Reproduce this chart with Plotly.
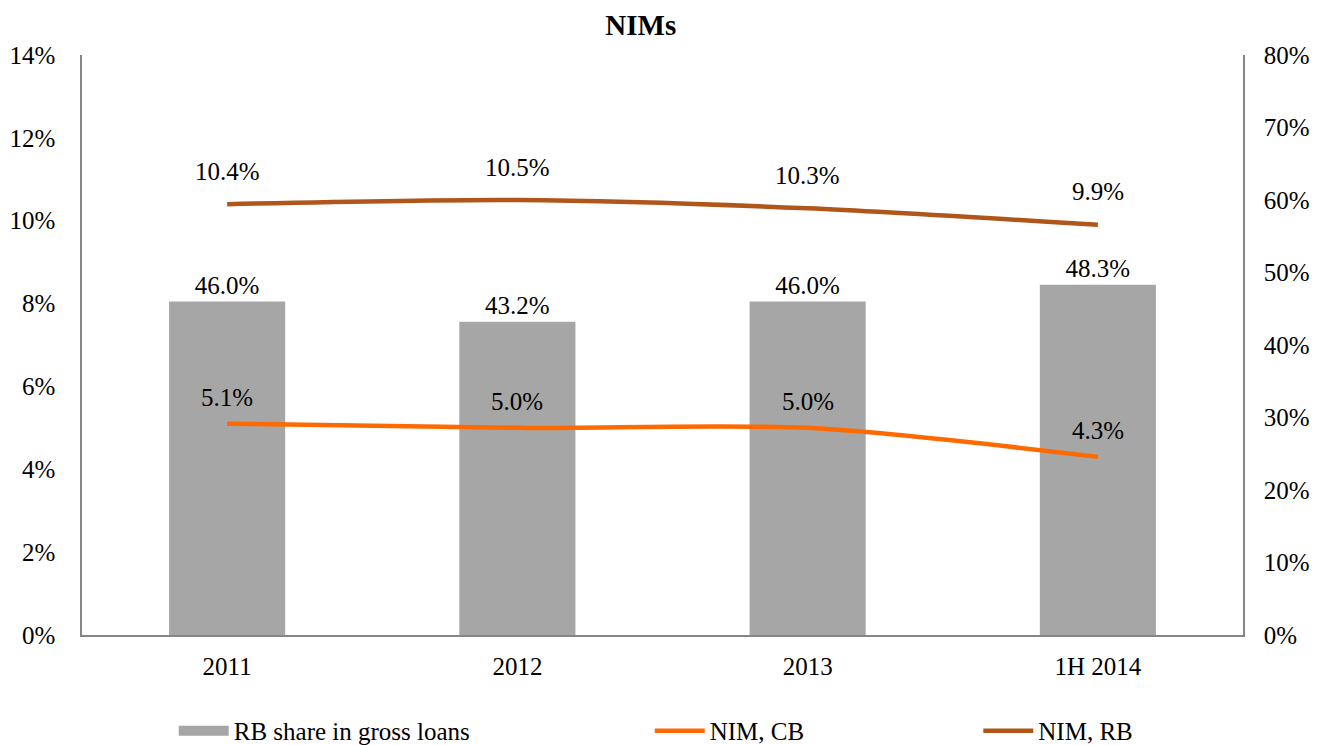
import plotly.graph_objects as go

categories = ["2011", "2012", "2013", "1H 2014"]
rb_share = [46.0, 43.2, 46.0, 48.3]
nim_cb = [5.1, 5.0, 5.0, 4.3]
nim_rb = [10.4, 10.5, 10.3, 9.9]

left_ticks = [0, 2, 4, 6, 8, 10, 12, 14]
right_ticks = [0, 10, 20, 30, 40, 50, 60, 70, 80]

FONT = "Liberation Serif"
BAR_COLOR = "#A6A6A6"
CB_COLOR = "#FF6A00"
RB_COLOR = "#B0561B"
AXIS_COLOR = "#868686"
FS = 25

fig = go.Figure()

# bars on the primary axis (drawn first, underneath), shown on the right side
fig.add_trace(go.Bar(
    x=categories, y=rb_share, name="RB share in gross loans",
    marker=dict(color=BAR_COLOR, line=dict(width=0)),
    width=0.4, yaxis="y", showlegend=False,
    text=[f"{v:.1f}%" for v in rb_share], textposition="outside",
    textfont=dict(family=FONT, size=FS, color="black"),
    cliponaxis=False,
))
# legend proxy for the bar series (wide rectangle swatch)
fig.add_trace(go.Scatter(
    x=[None], y=[None], name="RB share in gross loans", mode="lines",
    line=dict(color=BAR_COLOR, width=17), yaxis="y", legend="legend",
))
fig.add_trace(go.Scatter(
    x=categories, y=nim_cb, name="NIM, CB", mode="lines",
    line=dict(color=CB_COLOR, width=4.5, shape="spline", smoothing=0.8),
    yaxis="y2", legend="legend2",
))
fig.add_trace(go.Scatter(
    x=categories, y=nim_rb, name="NIM, RB", mode="lines",
    line=dict(color=RB_COLOR, width=4.5, shape="spline", smoothing=0.8),
    yaxis="y2", legend="legend3",
))

annotations = []
for i, v in enumerate(nim_rb):
    annotations.append(dict(x=i, y=v, xref="x", yref="y2", text=f"{v:.1f}%",
                            showarrow=False, yshift=33,
                            font=dict(family=FONT, size=FS, color="black")))
for i, v in enumerate(nim_cb):
    annotations.append(dict(x=i, y=v, xref="x", yref="y2", text=f"{v:.1f}%",
                            showarrow=False, yshift=26,
                            font=dict(family=FONT, size=FS, color="black")))

legend_common = dict(orientation="h", y=-0.1655, yanchor="middle",
                     xanchor="left", font=dict(family=FONT, size=FS, color="black"),
                     bgcolor="rgba(0,0,0,0)", itemwidth=50)

fig.update_layout(
    width=1310, height=737,
    margin=dict(l=74, r=75, t=47, b=110, autoexpand=False),
    paper_bgcolor="white", plot_bgcolor="white",
    font=dict(family=FONT, size=FS, color="black"),
    title=dict(text="<b>NIMs</b>", x=0.483, xanchor="center", y=0.977, yanchor="middle",
               font=dict(family=FONT, size=29, color="black")),
    xaxis=dict(type="category", range=[-0.5, 3.5], showline=True, linecolor=AXIS_COLOR,
               linewidth=1.5, showgrid=False, ticks="", ticklabelstandoff=8,
               tickfont=dict(family=FONT, size=FS)),
    yaxis=dict(range=[0, 80], tickvals=right_ticks, ticktext=[f"{t}%" for t in right_ticks],
               side="right",
               showline=True, linecolor=AXIS_COLOR, linewidth=1.5, showgrid=False,
               ticks="", ticklabelstandoff=14, zeroline=False,
               tickfont=dict(family=FONT, size=FS)),
    yaxis2=dict(range=[0, 14], tickvals=left_ticks, ticktext=[f"{t}%" for t in left_ticks],
                overlaying="y", side="left",
                showline=True, linecolor=AXIS_COLOR, linewidth=1.5, showgrid=False,
                ticks="", ticklabelstandoff=20, zeroline=False,
                tickfont=dict(family=FONT, size=FS)),
    legend=dict(x=0.079, **legend_common),
    legend2=dict(x=0.489, **legend_common),
    legend3=dict(x=0.772, **legend_common),
    annotations=annotations,
)

fig.write_html("out.html")
